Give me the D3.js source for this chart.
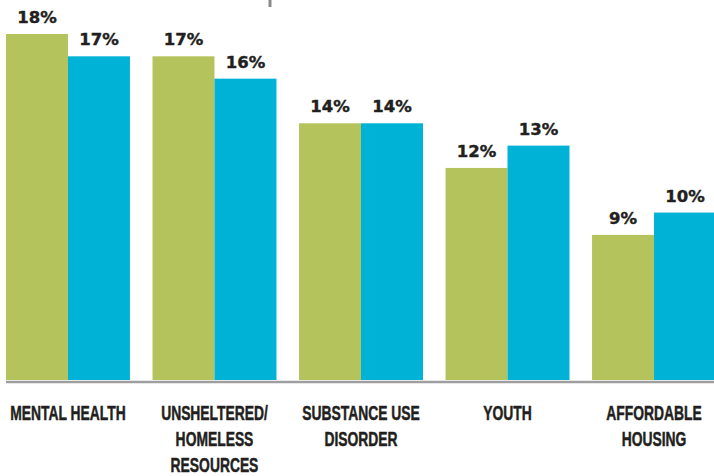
<!DOCTYPE html>
<html>
<head>
<meta charset="utf-8">
<script src="https://cdn.jsdelivr.net/npm/d3@7"></script>
<style>
  html, body { margin: 0; padding: 0; background: #fff; }
  svg { display: block; }
</style>
</head>
<body>
<svg id="chart" width="714" height="476"></svg>
<script>
const categories = [
  ["MENTAL HEALTH"],
  ["UNSHELTERED/", "HOMELESS", "RESOURCES"],
  ["SUBSTANCE USE", "DISORDER"],
  ["YOUTH"],
  ["AFFORDABLE", "HOUSING"]
];
const seriesNames = ["Series A", "Series B"];
const seriesA = [18, 17, 14, 12, 9];
const seriesB = [17, 16, 14, 13, 10];
const colors = ["#b5c35c", "#00b2d6"];

const svg = d3.select("#chart");
const baseY = 380, topY = 34;

const keys = categories.map(c => c.join(" "));
const x0 = d3.scaleBand().domain(keys).range([6, 716]).paddingInner(0.154).paddingOuter(0);
const x1 = d3.scaleBand().domain(seriesNames).range([0, x0.bandwidth()]).padding(0);
const y = d3.scaleLinear().domain([2.5, 18]).range([baseY, topY]);
const color = d3.scaleOrdinal().domain(seriesNames).range(colors);

const data = keys.map((k, i) => ({
  key: k, lines: categories[i],
  vals: [{s: seriesNames[0], v: seriesA[i]}, {s: seriesNames[1], v: seriesB[i]}]
}));

// small mark at top (cut-off element)
svg.append("line").attr("x1", 270).attr("x2", 270).attr("y1", 0).attr("y2", 7)
  .attr("stroke", "#8a8a8a").attr("stroke-width", 3);

const g = svg.selectAll("g.grp").data(data).join("g")
  .attr("class", "grp")
  .attr("transform", d => `translate(${x0(d.key)},0)`);

g.selectAll("rect").data(d => d.vals).join("rect")
  .attr("x", d => x1(d.s))
  .attr("width", x1.bandwidth())
  .attr("y", d => y(d.v))
  .attr("height", d => baseY - y(d.v))
  .attr("fill", d => color(d.s));

g.selectAll("text.val").data(d => d.vals).join("text")
  .attr("class", "val")
  .attr("x", d => x1(d.s) + x1.bandwidth() / 2)
  .attr("y", d => y(d.v) - 11)
  .attr("text-anchor", "middle")
  .attr("font-family", "DejaVu Sans, sans-serif")
  .attr("font-weight", "bold")
  .attr("font-size", 16.5)
  .attr("fill", "#231f20")
  .attr("stroke", "#231f20")
  .attr("stroke-width", 0.4)
  .text(d => d.v + "%");

// baseline
svg.append("line").attr("x1", 6).attr("x2", 714).attr("y1", 382).attr("y2", 382)
  .attr("stroke", "#9e9e9e").attr("stroke-width", 2.5);

// category labels
const lab = svg.selectAll("g.lab").data(data).join("g")
  .attr("class", "lab")
  .attr("transform", d => `translate(${x0(d.key) + x0.bandwidth() / 2},0) scale(0.66,1)`);
lab.selectAll("text").data(d => d.lines).join("text")
  .attr("x", 0)
  .attr("y", (d, i) => 420 + i * 26)
  .attr("text-anchor", "middle")
  .attr("font-family", "Liberation Sans, Arial, sans-serif")
  .attr("font-weight", "bold")
  .attr("font-size", 21)
  .attr("fill", "#231f20")
  .attr("stroke", "#231f20")
  .attr("stroke-width", 0.5)
  .text(d => d);
</script>
</body>
</html>
